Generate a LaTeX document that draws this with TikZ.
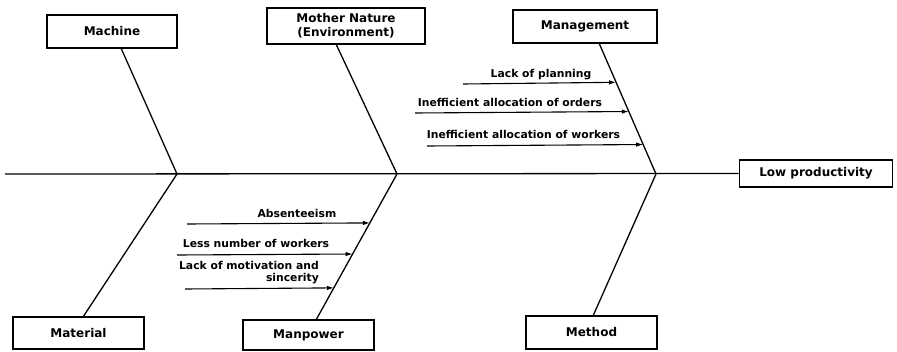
\documentclass[tikz,border=0pt]{standalone}
\usepackage{fontspec}
\setmainfont{DejaVu Sans}
\usetikzlibrary{arrows.meta,calc}
\begin{document}
\begin{tikzpicture}[x=1pt,y=-1pt,
  catbox/.style={draw=black,line width=1.6pt,fill=white,inner sep=0pt,font=\bfseries\fontsize{12}{14}\selectfont,align=center},
  bone/.style={draw=black,line width=1.3pt},
  cause/.style={draw=black,line width=1.1pt,-{Latex[length=7pt,width=4.5pt]}},
  lbl/.style={font=\bfseries\fontsize{10.8}{12}\selectfont,inner sep=0pt}]
\path[fill=white] (0,0) rectangle (897,351);
\useasboundingbox (0,0) rectangle (897,351);
% boxes
\node[catbox,minimum width=130pt,minimum height=33pt] (mach) at (112,31.5) {Machine};
\node[catbox,minimum width=158pt,minimum height=36pt] (nat) at (346,26) {Mother Nature\\(Environment)};
\node[catbox,minimum width=144pt,minimum height=33pt] (mgmt) at (585,26.5) {Management};
\node[catbox,minimum width=153pt,minimum height=27pt] (low) at (816,173.5) {Low productivity};
\node[catbox,minimum width=131pt,minimum height=32pt] (mat) at (78.5,333) {Material};
\node[catbox,minimum width=131pt,minimum height=30pt] (man) at (308.5,335) {Manpower};
\node[catbox,minimum width=131pt,minimum height=33pt] (meth) at (591.5,332.5) {Method};
% spine
\coordinate (s0) at (5,174);
\coordinate (j1) at (177,174);
\coordinate (j2) at (397,174);
\coordinate (j3) at (656,174);
\draw[bone] (s0) -- (low.west);
% bone ends on boxes
\coordinate (t1) at (121,48);
\coordinate (t2) at (336,44);
\coordinate (t3) at (599,43);
\coordinate (b1) at (83,317);
\coordinate (b2) at (316,320);
\coordinate (b3) at (593,316);
\draw[bone] (t1) -- (j1) -- (b1);
\draw[bone] (t2) -- (j2) -- (b2);
\draw[bone] (t3) -- (j3) -- (b3);
% management causes
\coordinate (m1) at (463,84);
\coordinate (m2) at (415,113);
\coordinate (m3) at (427,146);
\draw[cause] (m1) -- ($(t3)!0.300!(j3)$);
\draw[cause] (m2) -- ($(t3)!0.523!(j3)$);
\draw[cause] (m3) -- ($(t3)!0.775!(j3)$);
\node[lbl] (lm1) at (541,74.5) {Lack of planning};
\node[lbl] (lm2) at (510,102.5) {Inefficient allocation of orders};
\node[lbl] (lm3) at (523.5,134) {Inefficient allocation of workers};
% manpower causes
\coordinate (p1) at (187,224);
\coordinate (p2) at (177,255);
\coordinate (p3) at (185,289);
\draw[cause] (p1) -- ($(j2)!0.335!(b2)$);
\draw[cause] (p2) -- ($(j2)!0.548!(b2)$);
\draw[cause] (p3) -- ($(j2)!0.78!(b2)$);
\node[lbl] (lp1) at (297,213) {Absenteeism};
\node[lbl] (lp2) at (256,243) {Less number of workers};
\node[lbl,align=right,anchor=east] (lp3) at (319,272.5) {Lack of motivation and\\sincerity};
\end{tikzpicture}
\end{document}
